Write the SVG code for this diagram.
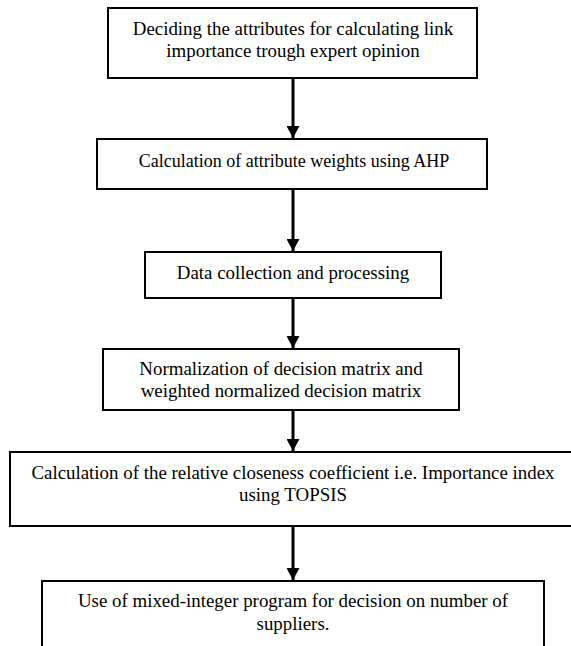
<svg xmlns="http://www.w3.org/2000/svg" width="571" height="646" viewBox="0 0 571 646">
<defs>
<style>
.box{fill:#fff;stroke:#000;stroke-width:2}
.t{font-family:"Liberation Serif","Times New Roman",serif;font-size:18.9px;fill:#000;text-anchor:middle}
.t2{font-size:18px}
.conn line{stroke:#000;stroke-width:3}
</style>
<marker id="ah" viewBox="0 0 12 13" refX="12" refY="6.5" markerWidth="12" markerHeight="13" markerUnits="userSpaceOnUse" orient="auto">
<path d="M0,0 L12,6.5 L0,13 Z" fill="#000"/>
</marker>
</defs>
<rect width="571" height="646" fill="#fff"/>
<g id="n1">
<rect class="box" x="108" y="8" width="369" height="70"/>
<text class="t" x="293" y="35">Deciding the attributes for calculating link</text>
<text class="t" x="293" y="57">importance trough expert opinion</text>
</g>
<g id="n2">
<rect class="box" x="97" y="139" width="390" height="50"/>
<text class="t t2" x="294" y="167">Calculation of attribute weights using AHP</text>
</g>
<g id="n3">
<rect class="box" x="145" y="252" width="296" height="46"/>
<text class="t" x="293" y="279">Data collection and processing</text>
</g>
<g id="n4">
<rect class="box" x="103" y="349" width="356" height="61"/>
<text class="t" x="281" y="375">Normalization of decision matrix and</text>
<text class="t" x="281" y="397">weighted normalized decision matrix</text>
</g>
<g id="n5">
<rect class="box" x="10" y="452" width="568" height="74"/>
<text class="t" x="293" y="479">Calculation of the relative closeness coefficient i.e. Importance index</text>
<text class="t" x="293" y="501">using TOPSIS</text>
</g>
<g id="n6">
<rect class="box" x="42" y="581" width="502" height="80"/>
<text class="t" x="293" y="607">Use of mixed-integer program for decision on number of</text>
<text class="t" x="293" y="630">suppliers.</text>
</g>
<g id="connectors" class="conn">
<line x1="293" y1="78" x2="293" y2="138" marker-end="url(#ah)"/>
<line x1="293" y1="189" x2="293" y2="251" marker-end="url(#ah)"/>
<line x1="293" y1="298" x2="293" y2="348" marker-end="url(#ah)"/>
<line x1="293" y1="410" x2="293" y2="451" marker-end="url(#ah)"/>
<line x1="293" y1="526" x2="293" y2="580" marker-end="url(#ah)"/>
</g>
</svg>
